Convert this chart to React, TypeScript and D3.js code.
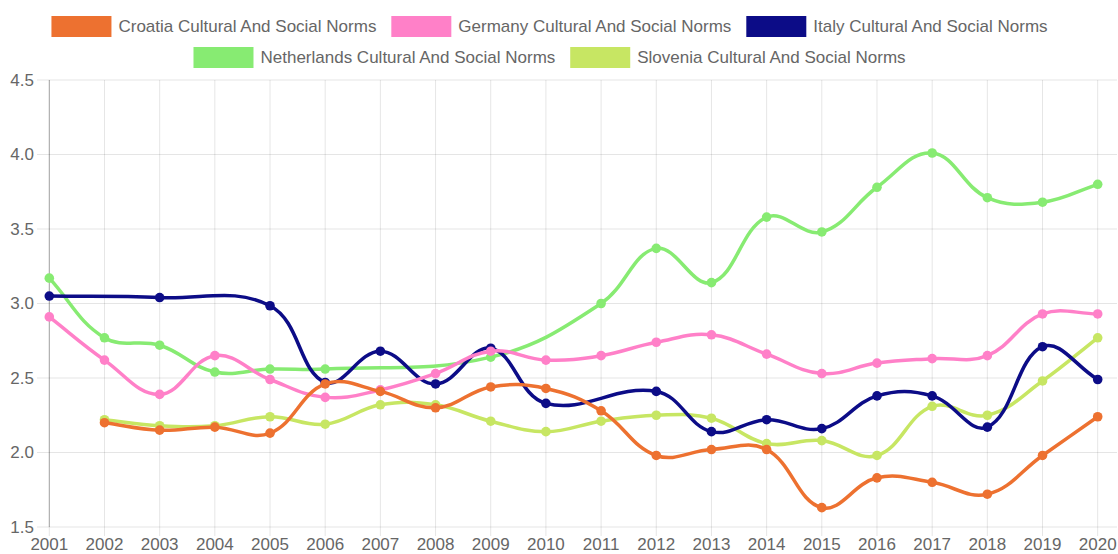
import { useMemo } from "react";
import * as d3 from "d3";

const W = 1118;
const H = 554;
const PLOT_L = 49.3;
const PLOT_R = 1117;
const X_LAST = 1097.7;
const PLOT_T = 80;
const PLOT_B = 527;
const FONT = "'Liberation Sans', Arial, sans-serif";
const FONT_SIZE = 17;

const YEARS = [
  "2001", "2002", "2003", "2004", "2005", "2006", "2007", "2008", "2009", "2010",
  "2011", "2012", "2013", "2014", "2015", "2016", "2017", "2018", "2019", "2020",
];

const CROATIA = [null, 2.2, 2.15, 2.17, 2.13, 2.46, 2.41, 2.3, 2.44, 2.43, 2.28, 1.98, 2.02, 2.02, 1.63, 1.83, 1.8, 1.72, 1.98, 2.24];
const GERMANY = [2.91, 2.62, 2.39, 2.65, 2.49, 2.37, 2.42, 2.53, 2.68, 2.62, 2.65, 2.74, 2.79, 2.66, 2.53, 2.6, 2.63, 2.65, 2.93, 2.93];
const ITALY = [3.05, null, 3.04, null, 2.985, 2.47, 2.68, 2.46, 2.7, 2.33, null, 2.41, 2.14, 2.22, 2.16, 2.38, 2.38, 2.17, 2.71, 2.49];
const NETHERLANDS = [3.17, 2.77, 2.72, 2.54, 2.56, 2.56, null, null, 2.64, null, 3.0, 3.37, 3.14, 3.58, 3.48, 3.78, 4.01, 3.71, 3.68, 3.8];
const SLOVENIA = [null, 2.22, 2.18, 2.18, 2.24, 2.19, 2.32, 2.32, 2.21, 2.14, 2.21, 2.25, 2.23, 2.06, 2.08, 1.98, 2.31, 2.25, 2.48, 2.77];

const SERIES = [
  { name: "Croatia Cultural And Social Norms", color: "#ed7130", values: CROATIA },
  { name: "Germany Cultural And Social Norms", color: "#ff80c8", values: GERMANY },
  { name: "Italy Cultural And Social Norms", color: "#0c0c87", values: ITALY },
  { name: "Netherlands Cultural And Social Norms", color: "#87eb72", values: NETHERLANDS },
  { name: "Slovenia Cultural And Social Norms", color: "#c7e663", values: SLOVENIA },
];

type Pt = [number, number];

// same spline as chart.js (tension 0.4, spanGaps, control points capped to the area)
function splinePath(pts: Pt[], tension = 0.4) {
  const clampX = (v: number) => Math.max(PLOT_L, Math.min(PLOT_R, v));
  const clampY = (v: number) => Math.max(PLOT_T, Math.min(PLOT_B, v));
  const cps = pts.map((cur, i) => {
    const prev = pts[i - 1] ?? cur;
    const next = pts[i + 1] ?? cur;
    const d01 = Math.hypot(cur[0] - prev[0], cur[1] - prev[1]);
    const d12 = Math.hypot(next[0] - cur[0], next[1] - cur[1]);
    let s01 = d01 / (d01 + d12);
    let s12 = d12 / (d01 + d12);
    if (!isFinite(s01)) s01 = 0;
    if (!isFinite(s12)) s12 = 0;
    const fa = tension * s01;
    const fb = tension * s12;
    return {
      before: [clampX(cur[0] - fa * (next[0] - prev[0])), clampY(cur[1] - fa * (next[1] - prev[1]))],
      after: [clampX(cur[0] + fb * (next[0] - prev[0])), clampY(cur[1] + fb * (next[1] - prev[1]))],
    };
  });
  const p = d3.path();
  p.moveTo(pts[0][0], pts[0][1]);
  for (let i = 1; i < pts.length; i++) {
    const a = cps[i - 1].after;
    const b = cps[i].before;
    p.bezierCurveTo(a[0], a[1], b[0], b[1], pts[i][0], pts[i][1]);
  }
  return p.toString();
}

function measure(text: string) {
  const ctx = document.createElement("canvas").getContext("2d");
  if (!ctx) return text.length * FONT_SIZE * 0.5;
  ctx.font = `${FONT_SIZE}px ${FONT}`;
  return ctx.measureText(text).width;
}

export default function App() {
  const x = d3.scalePoint<string>().domain(YEARS).range([PLOT_L, X_LAST]);
  const y = d3.scaleLinear().domain([1.5, 4.5]).range([PLOT_B, PLOT_T]);
  const yTicks = y.ticks(6);

  const legendRows = useMemo(() => {
    const BOX_W = 60;
    const GAP = 7;
    const SPACING = 14;
    const MAX_W = 1080;
    const CENTER = 550;
    const items = SERIES.map((s) => ({ ...s, w: BOX_W + GAP + measure(s.name) }));
    const rows: (typeof items)[] = [];
    let row: typeof items = [];
    let rowW = 0;
    for (const it of items) {
      const add = row.length ? SPACING + it.w : it.w;
      if (row.length && rowW + add > MAX_W) {
        rows.push(row);
        row = [];
        rowW = 0;
      }
      rowW += row.length ? SPACING + it.w : it.w;
      row.push(it);
    }
    if (row.length) rows.push(row);
    return rows.map((r, ri) => {
      const total = d3.sum(r, (d) => d.w) + SPACING * (r.length - 1);
      let cx = CENTER - total / 2;
      return r.map((it) => {
        const out = { ...it, x0: cx, y0: 16 + ri * 31, boxW: BOX_W, gap: GAP };
        cx += it.w + SPACING;
        return out;
      });
    });
  }, []);

  const lines = SERIES.map((s) => {
    const pts: Pt[] = [];
    s.values.forEach((v, i) => {
      if (v != null) pts.push([x(YEARS[i]) ?? 0, y(v)]);
    });
    return { ...s, pts, d: splinePath(pts) };
  });

  return (
    <svg
      width={W}
      height={H}
      viewBox={`0 0 ${W} ${H}`}
      style={{ position: "absolute", left: 0, top: 0, fontFamily: FONT }}
    >
      <rect width={W} height={H} fill="#fff" />

      <g stroke="rgba(0,0,0,0.1)" strokeWidth={1}>
        {yTicks.map((t) => (
          <line key={`h${t}`} x1={37} x2={PLOT_R} y1={y(t)} y2={y(t)} />
        ))}
        {YEARS.map((yr) => (
          <line key={`v${yr}`} x1={x(yr)} x2={x(yr)} y1={PLOT_T} y2={PLOT_B + 9} />
        ))}
      </g>
      <line x1={PLOT_L} x2={PLOT_L} y1={PLOT_T} y2={PLOT_B} stroke="rgba(0,0,0,0.3)" />

      <g fill="#666" fontSize={FONT_SIZE}>
        {yTicks.map((t) => (
          <text key={t} x={34} y={y(t)} dy="0.35em" textAnchor="end">
            {d3.format(".1f")(t)}
          </text>
        ))}
        {YEARS.map((yr) => (
          <text key={yr} x={x(yr)} y={550} textAnchor="middle">
            {yr}
          </text>
        ))}
      </g>

      {[...lines].reverse().map((s) => (
        <g key={s.name}>
          <path d={s.d} fill="none" stroke={s.color} strokeWidth={3.5} />
          {s.pts.map((p, i) => (
            <circle key={i} cx={p[0]} cy={p[1]} r={4.8} fill={s.color} />
          ))}
        </g>
      ))}

      <g fontSize={FONT_SIZE} fill="#666">
        {legendRows.flat().map((it) => (
          <g key={it.name}>
            <rect x={it.x0} y={it.y0} width={it.boxW} height={21} fill={it.color} />
            <text x={it.x0 + it.boxW + it.gap} y={it.y0 + 10.5} dy="0.35em">
              {it.name}
            </text>
          </g>
        ))}
      </g>
    </svg>
  );
}
